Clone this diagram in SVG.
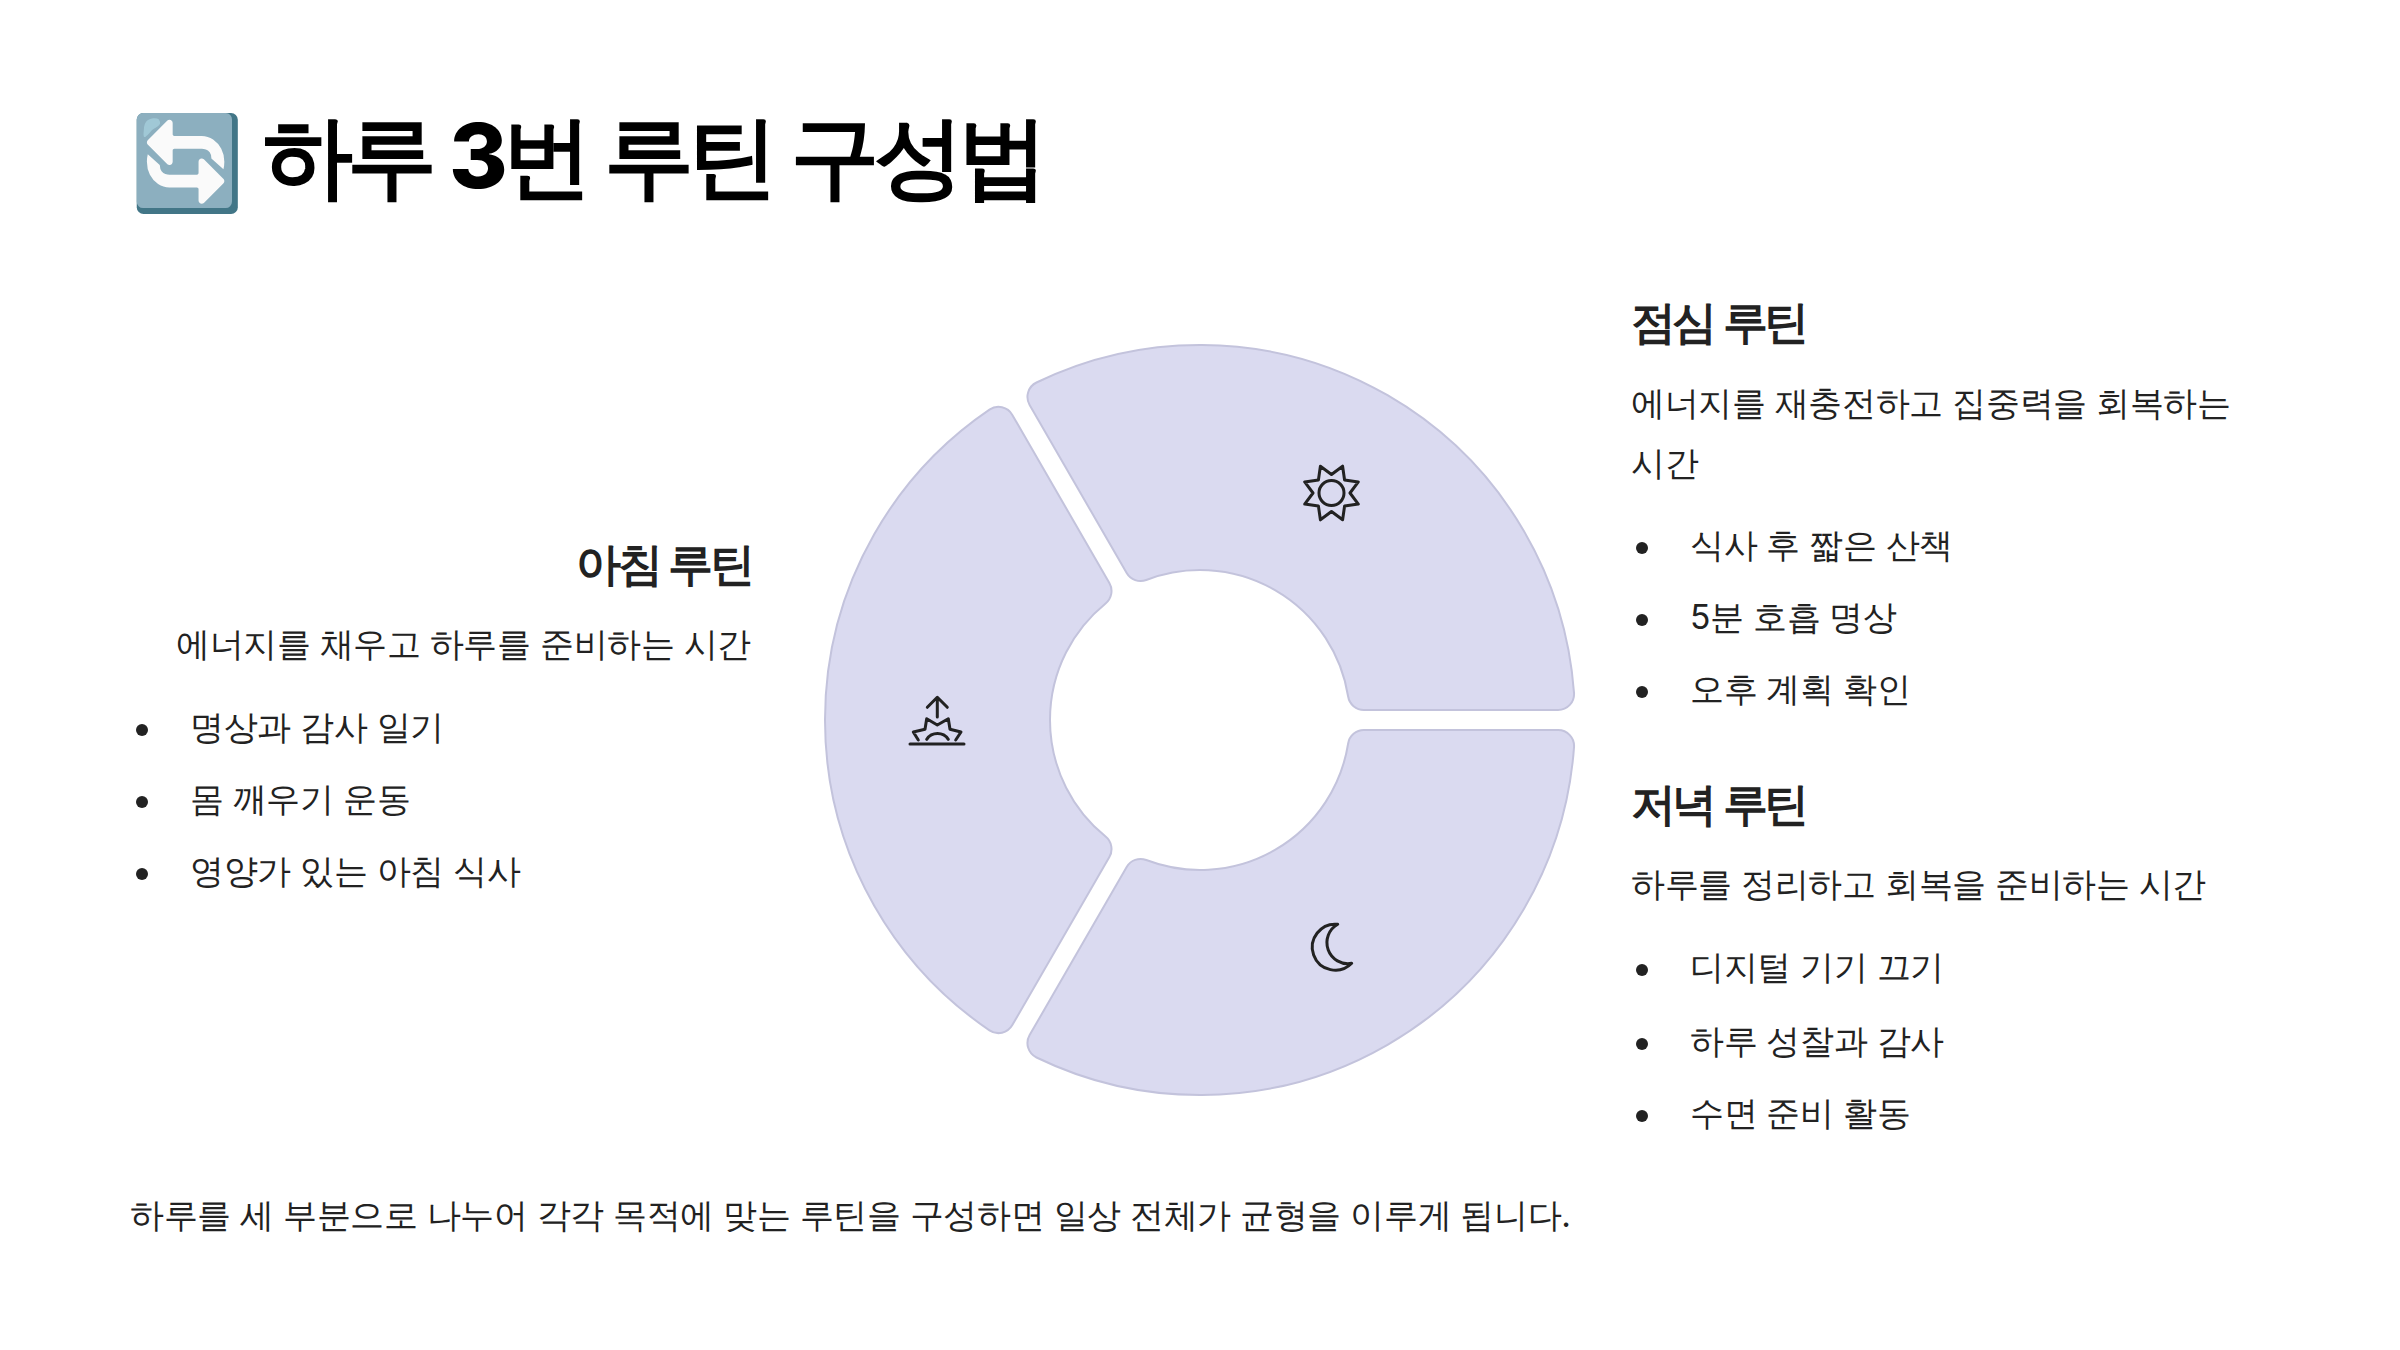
<svg xmlns="http://www.w3.org/2000/svg" width="2400" height="1350" viewBox="0 0 2400 1350">
<style>
text{font-family:Inter,sans-serif;fill:#222}
.t{font-size:89.6px;font-weight:800;fill:#000;letter-spacing:-5.9px;word-spacing:4px}
.h{font-size:44.8px;font-weight:800;letter-spacing:-3.6px;word-spacing:3px}
.b{font-size:33.6px;font-weight:400;letter-spacing:-.336px}
.seg{fill:#dadaf0;stroke:#c3c3dc;stroke-width:2}
.ic{fill:none;stroke:#222;stroke-width:3;stroke-linejoin:round;stroke-linecap:round}
.e{text-anchor:end}
circle.d{fill:#222}
</style>
<defs>
<path id="s" d="M1146.26 579.95A150 150 0 0 1 1348.15 696.51A16 16 0 0 0 1363.95 710L1558.06 710A16 16 0 0 0 1574.02 692.84A375 375 0 0 0 1036.51 382.52A16 16 0 0 0 1029.63 404.92L1126.68 573.02A16 16 0 0 0 1146.26 579.95Z"/>
</defs>
<rect width="2400" height="1350" fill="#fff"/>
<text class="t" x="130" y="188"><tspan font-size="92" y="195">🔄</tspan><tspan x="263" y="188">하루 3번 루틴 구성법</tspan></text>
<g id="seg-left"><use href="#s" class="seg" transform="rotate(-120 1200 720)"/>
<path class="ic" d="M937.3 717V697.3M927.3 707.3L937.3 697.3L947.3 707.3M910 744H964M918.3 740L913.3 732L925 729.3L926.7 718.7L937.3 725L948.3 718.7L950 729.3L961 732L955.7 740M926.7 739.3A13 13 0 0 1 948.3 739.3"/></g>
<g id="seg-top"><use href="#s" class="seg"/>
<path class="ic" d="M1331.5 474.5L1342.6 466.2L1344.58 479.92L1358.3 481.9L1350 493L1358.3 504.1L1344.58 506.08L1342.6 519.8L1331.5 511.5L1320.4 519.8L1318.42 506.08L1304.7 504.1L1313 493L1304.7 481.9L1318.42 479.92L1320.4 466.2Z"/><circle class="ic" cx="1331.5" cy="493" r="12.5"/></g>
<g id="seg-bottom"><use href="#s" class="seg" transform="matrix(1 0 0 -1 0 1440)"/>
<path class="ic" d="M1337.7 924.3A23 23 0 1 0 1351.7 963.3A21 21 0 0 1 1337.7 924.3Z"/></g>
<g id="morning">
<text class="h e" x="751" y="580">아침 루틴</text>
<text class="b e" x="751" y="656">에너지를 채우고 하루를 준비하는 시간</text>
<circle class="d" cx="142" cy="730" r="6"/><text class="b" x="190" y="739">명상과 감사 일기</text>
<circle class="d" cx="142" cy="802" r="6"/><text class="b" x="190" y="811">몸 깨우기 운동</text>
<circle class="d" cx="142" cy="874" r="6"/><text class="b" x="190" y="883">영양가 있는 아침 식사</text>
</g>
<g id="lunch">
<text class="h" x="1631" y="338">점심 루틴</text>
<text class="b" x="1631" y="415">에너지를 재충전하고 집중력을 회복하는</text>
<text class="b" x="1631" y="475">시간</text>
<circle class="d" cx="1642" cy="548" r="6"/><text class="b" x="1690" y="557">식사 후 짧은 산책</text>
<circle class="d" cx="1642" cy="620" r="6"/><text class="b" x="1690" y="629">5분 호흡 명상</text>
<circle class="d" cx="1642" cy="692" r="6"/><text class="b" x="1690" y="701">오후 계획 확인</text>
</g>
<g id="evening">
<text class="h" x="1631" y="820">저녁 루틴</text>
<text class="b" x="1631" y="896">하루를 정리하고 회복을 준비하는 시간</text>
<circle class="d" cx="1642" cy="970" r="6"/><text class="b" x="1690" y="979">디지털 기기 끄기</text>
<circle class="d" cx="1642" cy="1044" r="6"/><text class="b" x="1690" y="1053">하루 성찰과 감사</text>
<circle class="d" cx="1642" cy="1116" r="6"/><text class="b" x="1690" y="1125">수면 준비 활동</text>
</g>
<text id="footer" class="b" x="130" y="1227">하루를 세 부분으로 나누어 각각 목적에 맞는 루틴을 구성하면 일상 전체가 균형을 이루게 됩니다.</text>
</svg>
